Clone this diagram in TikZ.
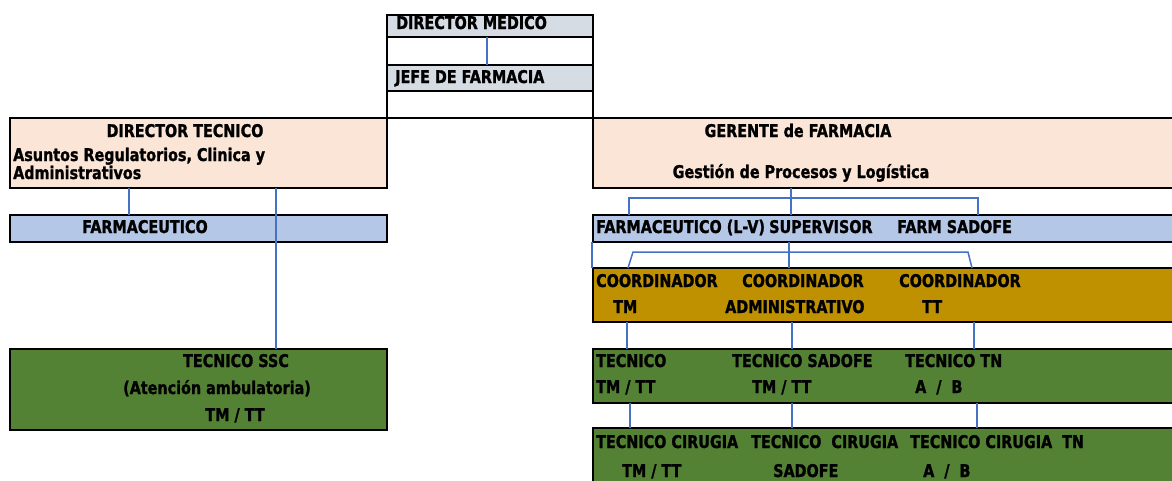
\documentclass[tikz,border=0pt]{standalone}
\usepackage{fontspec}
\setmainfont{DejaVu Sans}[FakeStretch=0.82, BoldFeatures={FakeBold=1.3}]
\usetikzlibrary{calc}
\definecolor{cgray}{HTML}{D6DCE4}
\definecolor{cpeach}{HTML}{FBE5D6}
\definecolor{cblue}{HTML}{B4C7E7}
\definecolor{cgold}{HTML}{BF9000}
\definecolor{cgreen}{HTML}{548235}
\definecolor{cline}{HTML}{4472C4}
\tikzset{
  box/.style={draw=black, line width=2.4pt, anchor=north west, inner sep=0pt, outer sep=0pt},
  conn/.style={draw=cline, line width=1.5pt},
  lbl/.style={inner sep=0pt, anchor=base west, font=\fontsize{17.5}{20}\selectfont\bfseries},
  clbl/.style={lbl, anchor=base},
}
\newcommand{\boxat}[6]{% name, fill, x1,y1,x2,y2
  \node[box, fill=#2, minimum width={(#5-#3)*1pt}, minimum height={(#6-#4)*1pt}] (#1) at (#3,#4) {};}
\begin{document}
\begin{tikzpicture}[x=1pt,y=-1pt]
\useasboundingbox (0,0) rectangle (1172,480);
\clip (0,0) rectangle (1172,480);
\fill[white] (0,0) rectangle (1172,480);
% director medico stack
\boxat{dm}{cgray}{387}{15}{593}{37}
\boxat{dmw}{white}{387}{37}{593}{65}
\boxat{jf}{cgray}{387}{65}{593}{91}
\boxat{jfw}{white}{387}{91}{593}{118}
% left column
\boxat{dt}{cpeach}{10}{118}{387}{188}
\boxat{fa}{cblue}{10}{215}{387}{242}
\boxat{ssc}{cgreen}{10}{349}{387}{430}
% right column
\boxat{gf}{cpeach}{593}{118}{1200}{188}
\boxat{fr}{cblue}{593}{215}{1200}{242}
\boxat{co}{cgold}{593}{268}{1200}{322}
\boxat{te}{cgreen}{593}{349}{1200}{403}
\boxat{tc}{cgreen}{593}{428}{1200}{500}
% connectors
\draw[conn] (dm.south -| 487,0) -- (jf.north -| 487,0);
\draw[conn] (dt.south -| 129,0) -- (fa.north -| 129,0);
\draw[conn] (dt.south -| 276,0) -- (ssc.north -| 276,0);
\draw[conn] (gf.south -| 791,0) -- (fr.north -| 791,0);
\draw[conn] (fr.north -| 629,0) -- (629,198) -- (978,198) -- (fr.north -| 978,0);
\draw[conn] (fr.south -| 789,0) -- (co.north -| 789,0);
\draw[conn] (co.north -| 628,0) -- (633,252) -- (968,252) -- (co.north -| 972,0);
\draw[conn] ($(fr.south west)+(-1,0)$) -- ($(co.north west)+(-1,0)$);
\draw[conn] (co.south -| 627,0) -- (te.north -| 627,0);
\draw[conn] (co.south -| 792,0) -- (te.north -| 792,0);
\draw[conn] (co.south -| 974,0) -- (te.north -| 974,0);
\draw[conn] (te.south -| 630,0) -- (tc.north -| 630,0);
\draw[conn] (te.south -| 792,0) -- (tc.north -| 792,0);
\draw[conn] (te.south -| 977,0) -- (tc.north -| 977,0);
% texts
\node[lbl] (t1) at (396,29) {DIRECTOR MEDICO};
\node[lbl] (t2) at (395,83) {JEFE DE FARMACIA};
\node[clbl] (t3) at (185,137) {DIRECTOR TECNICO};
\node[lbl] (t4) at (13,161) {Asuntos Regulatorios, Clinica y};
\node[lbl] (t5) at (13,179) {Administrativos};
\node[lbl] (t6) at (82,233) {FARMACEUTICO};
\node[clbl] (t7) at (236,367) {TECNICO SSC};
\node[clbl] (t8) at (217,394) {(Atención ambulatoria)};
\node[clbl] (t9) at (235,421) {TM / TT};
\node[clbl] (g1) at (798,137) {GERENTE de FARMACIA};
\node[clbl] (g2) at (801,178) {Gestión de Procesos y Logística};
\node[lbl] (f1) at (596,233) {FARMACEUTICO (L-V)};
\node[lbl] (f2) at (769,233) {SUPERVISOR};
\node[lbl] (f3) at (897,233) {FARM SADOFE};
\node[lbl] (c1) at (596,287) {COORDINADOR};
\node[lbl] (c2) at (742,287) {COORDINADOR};
\node[lbl] (c3) at (899,287) {COORDINADOR};
\node[lbl] (c4) at (613,313) {TM};
\node[lbl] (c5) at (725,313) {ADMINISTRATIVO};
\node[lbl] (c6) at (922,313) {TT};
\node[lbl] (e1) at (596,367) {TECNICO};
\node[lbl] (e2) at (732,367) {TECNICO SADOFE};
\node[lbl] (e3) at (905,367) {TECNICO TN};
\node[lbl] (e4) at (596,393) {TM / TT};
\node[lbl] (e5) at (752,393) {TM / TT};
\node[lbl] (e6) at (915,393) {A\ \ /\ \ B};
\node[lbl] (k1) at (596,448) {TECNICO CIRUGIA};
\node[lbl] (k2) at (751,448) {TECNICO\ \ CIRUGIA};
\node[lbl] (k3) at (910,448) {TECNICO CIRUGIA\ \ TN};
\node[lbl] (k4) at (622,477) {TM / TT};
\node[lbl] (k5) at (773,477) {SADOFE};
\node[lbl] (k6) at (923,477) {A\ \ /\ \ B};
\end{tikzpicture}
\end{document}
